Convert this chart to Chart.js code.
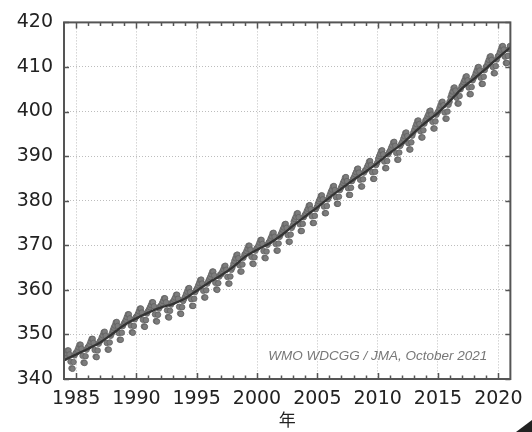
<!DOCTYPE html>
<html>
<head>
<meta charset="utf-8">
<style>
  html, body { margin: 0; padding: 0; background: #fff; }
  #wrap { width: 532px; height: 432px; }
</style>
</head>
<body>
<div id="wrap"><canvas id="chart" width="532" height="432"></canvas></div>

<script src="https://cdn.jsdelivr.net/npm/chart.js"></script>
<script>
  // monthly global mean CO2 (ppm), one row per year, Jan..Dec
  var firstYear = 1984;
  var monthlyCO2 = [
    [344.7, 345.2, 345.8, 346.4, 346.4, 345.5, 343.9, 342.4, 342.3, 343.8, 345.3, 345.8],
    [346.0, 346.5, 347.1, 347.7, 347.7, 346.8, 345.2, 343.7, 343.6, 345.1, 346.6, 347.1],
    [347.3, 347.8, 348.4, 349.0, 349.0, 348.1, 346.5, 345.0, 344.9, 346.4, 347.9, 348.4],
    [348.7, 349.3, 349.8, 350.5, 350.6, 349.7, 348.1, 346.6, 346.6, 348.2, 349.7, 350.2],
    [350.9, 351.5, 352.0, 352.7, 352.8, 351.9, 350.3, 348.8, 348.8, 350.4, 351.9, 352.4],
    [352.8, 353.3, 353.9, 354.5, 354.5, 353.6, 352.0, 350.5, 350.4, 351.9, 353.4, 353.9],
    [354.1, 354.6, 355.2, 355.8, 355.8, 354.9, 353.3, 351.8, 351.7, 353.2, 354.7, 355.2],
    [355.6, 356.1, 356.6, 357.2, 357.2, 356.3, 354.5, 353.0, 352.9, 354.4, 355.8, 356.3],
    [356.5, 357.0, 357.5, 358.1, 358.1, 357.2, 355.4, 353.9, 353.8, 355.3, 356.7, 357.2],
    [357.3, 357.8, 358.3, 358.9, 358.9, 358.0, 356.2, 354.7, 354.6, 356.1, 357.5, 358.0],
    [358.5, 359.1, 359.6, 360.3, 360.4, 359.5, 357.9, 356.4, 356.4, 358.0, 359.5, 360.0],
    [360.4, 361.0, 361.5, 362.2, 362.3, 361.4, 359.8, 358.3, 358.3, 359.9, 361.4, 361.9],
    [362.4, 362.9, 363.5, 364.1, 364.1, 363.2, 361.6, 360.1, 360.0, 361.5, 363.0, 363.5],
    [363.5, 364.1, 364.6, 365.3, 365.4, 364.5, 362.9, 361.4, 361.4, 363.0, 364.5, 365.0],
    [365.8, 366.5, 367.1, 367.8, 367.9, 367.1, 365.5, 364.1, 364.1, 365.7, 367.2, 367.9],
    [368.2, 368.7, 369.3, 369.9, 369.9, 369.0, 367.4, 365.9, 365.8, 367.3, 368.8, 369.3],
    [369.5, 370.0, 370.6, 371.2, 371.2, 370.3, 368.7, 367.2, 367.1, 368.6, 370.1, 370.6],
    [370.9, 371.5, 372.0, 372.7, 372.8, 371.9, 370.3, 368.8, 368.8, 370.4, 371.9, 372.4],
    [372.9, 373.5, 374.0, 374.7, 374.8, 373.9, 372.3, 370.8, 370.8, 372.4, 373.9, 374.4],
    [375.3, 375.9, 376.4, 377.1, 377.2, 376.3, 374.7, 373.2, 373.2, 374.8, 376.3, 376.8],
    [377.1, 377.7, 378.2, 378.9, 379.0, 378.1, 376.5, 375.0, 375.0, 376.6, 378.1, 378.6],
    [379.3, 379.9, 380.4, 381.1, 381.2, 380.3, 378.7, 377.2, 377.2, 378.8, 380.3, 380.8],
    [381.4, 382.0, 382.5, 383.2, 383.3, 382.4, 380.8, 379.3, 379.3, 380.9, 382.4, 382.9],
    [383.4, 384.0, 384.5, 385.2, 385.3, 384.4, 382.8, 381.3, 381.3, 382.9, 384.4, 384.9],
    [385.3, 385.9, 386.4, 387.1, 387.2, 386.3, 384.7, 383.2, 383.2, 384.8, 386.3, 386.8],
    [387.0, 387.6, 388.1, 388.8, 388.9, 388.0, 386.4, 384.9, 384.9, 386.5, 388.0, 388.5],
    [389.4, 390.0, 390.5, 391.2, 391.3, 390.4, 388.8, 387.3, 387.3, 388.9, 390.4, 390.9],
    [391.3, 391.9, 392.4, 393.1, 393.2, 392.3, 390.7, 389.2, 389.2, 390.8, 392.3, 392.8],
    [393.2, 393.9, 394.5, 395.2, 395.3, 394.5, 392.9, 391.5, 391.5, 393.1, 394.6, 395.3],
    [395.9, 396.6, 397.2, 397.9, 398.0, 397.2, 395.6, 394.2, 394.2, 395.8, 397.3, 398.0],
    [398.3, 398.9, 399.4, 400.1, 400.2, 399.3, 397.7, 396.2, 396.2, 397.8, 399.3, 399.8],
    [400.1, 400.8, 401.4, 402.1, 402.2, 401.4, 399.8, 398.4, 398.4, 400.0, 401.5, 402.2],
    [403.2, 403.9, 404.5, 405.3, 405.4, 404.7, 403.1, 401.8, 401.8, 403.5, 405.0, 405.7],
    [406.0, 406.6, 407.1, 407.8, 407.9, 407.0, 405.4, 403.9, 403.9, 405.5, 407.0, 407.5],
    [407.9, 408.6, 409.2, 409.9, 410.0, 409.2, 407.6, 406.2, 406.2, 407.8, 409.3, 410.0],
    [410.3, 411.0, 411.6, 412.3, 412.4, 411.6, 410.0, 408.6, 408.6, 410.2, 411.7, 412.4],
    [412.6, 413.3, 413.9, 414.6, 414.7, 413.9, 412.3, 410.9, 410.9, 412.5, 414.0, 414.7]
  ];

  // deseasonalised trend, value at the start of each year
  var trendYears = [1984, 1985, 1986, 1987, 1988, 1989, 1990, 1991, 1992, 1993, 1994, 1995, 1996, 1997, 1998, 1999, 2000, 2001, 2002,
    2003, 2004, 2005, 2006, 2007, 2008, 2009, 2010, 2011, 2012, 2013, 2014, 2015, 2016, 2017, 2018, 2019, 2020, 2021];
  var trendCO2 = [344.2, 345.5, 346.8, 348.2, 350.1, 352.1, 353.6, 354.9, 356.0, 356.8, 358.0, 359.8, 361.6, 363.2, 365.1, 367.4, 369.0, 370.4, 372.2,
    374.4, 376.5, 378.5, 380.7, 382.7, 384.7, 386.5, 388.5, 390.7, 392.7, 395.2, 397.6, 399.7, 402.4, 405.2, 407.4, 409.7, 412.1, 414.4];

  var xTickYears = [1985, 1990, 1995, 2000, 2005, 2010, 2015, 2020];
  var yTicks = [340, 350, 360, 370, 380, 390, 400, 410, 420];
  var xMin = 1984, xMax = 2021;

  var monthlyPoints = [];
  monthlyCO2.forEach(function (row, i) {
    row.forEach(function (v, m) {
      monthlyPoints.push({ x: firstYear + i + (m + 0.5) / 12, y: v });
    });
  });

  var trendPoints = trendYears.map(function (yr, i) {
    return { x: yr, y: trendCO2[i] };
  });

  // box, inward ticks, credit text
  var framePlugin = {
    id: "frame",
    afterDraw: function (chart) {
      var ctx = chart.ctx;
      var a = chart.chartArea;
      var xs = chart.scales.x;
      var ys = chart.scales.y;
      ctx.save();
      ctx.strokeStyle = "#555";
      ctx.lineWidth = 1.5;

      ctx.beginPath();
      for (var yr = xMin + 1; yr < xMax; yr++) {
        var px = Math.round(xs.getPixelForValue(yr)) + 0.5;
        var len = yr % 5 === 0 ? 6 : 3.5;
        ctx.moveTo(px, a.bottom);
        ctx.lineTo(px, a.bottom - len);
        ctx.moveTo(px, a.top);
        ctx.lineTo(px, a.top + len);
      }
      yTicks.forEach(function (v) {
        var py = Math.round(ys.getPixelForValue(v)) + 0.5;
        ctx.moveTo(a.left, py);
        ctx.lineTo(a.left + 5, py);
        ctx.moveTo(a.right, py);
        ctx.lineTo(a.right - 5, py);
      });
      ctx.stroke();

      ctx.lineWidth = 2;
      ctx.strokeRect(a.left, a.top, a.right - a.left, a.bottom - a.top);

      ctx.fillStyle = "#777";
      ctx.font = "italic 13.5px 'Liberation Sans', Arial, sans-serif";
      ctx.textAlign = "right";
      ctx.textBaseline = "middle";
      ctx.fillText("WMO WDCGG / JMA, October 2021", a.right - 23, a.bottom - 23);

      ctx.fillStyle = "#222";
      ctx.beginPath();
      ctx.moveTo(516, 432);
      ctx.lineTo(532, 420);
      ctx.lineTo(532, 432);
      ctx.closePath();
      ctx.fill();
      ctx.restore();
    }
  };

  var ctx = document.getElementById("chart").getContext("2d");

  var myChart = new Chart(ctx, {
    type: "scatter",
    data: {
      datasets: [
        {
          label: "trend",
          data: trendPoints,
          showLine: true,
          borderColor: "#333",
          borderWidth: 2.3,
          pointRadius: 0,
          tension: 0.4,
          order: 0
        },
        {
          label: "monthly",
          data: monthlyPoints,
          pointRadius: 2.8,
          pointBackgroundColor: "#7c7c7c",
          pointBorderColor: "#626262",
          pointBorderWidth: 0.8,
          order: 1
        }
      ]
    },
    options: {
      responsive: false,
      animation: false,
      events: [],
      layout: { padding: { top: 19, right: 19, left: 0, bottom: 0 } },
      plugins: {
        legend: { display: false },
        tooltip: { enabled: false }
      },
      scales: {
        x: {
          type: "linear",
          min: xMin,
          max: xMax,
          afterBuildTicks: function (scale) {
            scale.ticks = xTickYears.map(function (v) { return { value: v }; });
          },
          afterFit: function (scale) { scale.height = 53; },
          grid: { color: "#bdbdbd", lineWidth: 1, drawTicks: false },
          border: { display: false, dash: [1, 2] },
          ticks: {
            padding: 9,
            color: "#222",
            maxRotation: 0,
            autoSkip: false,
            font: { family: "'DejaVu Sans', sans-serif", size: 19 },
            callback: function (v) { return String(v); }
          },
          title: {
            display: true,
            text: "年",
            color: "#222",
            padding: { top: 0, bottom: 2 },
            font: { family: "'Noto Sans CJK JP', sans-serif", size: 17 }
          }
        },
        y: {
          min: 340,
          max: 420,
          afterBuildTicks: function (scale) {
            scale.ticks = yTicks.map(function (v) { return { value: v }; });
          },
          afterFit: function (scale) { scale.width = 64; },
          grid: { color: "#bdbdbd", lineWidth: 1, drawTicks: false },
          border: { display: false, dash: [1, 2] },
          ticks: {
            padding: 11,
            color: "#222",
            font: { family: "'DejaVu Sans', sans-serif", size: 19 }
          }
        }
      }
    },
    plugins: [framePlugin]
  });
</script>
</body>
</html>
